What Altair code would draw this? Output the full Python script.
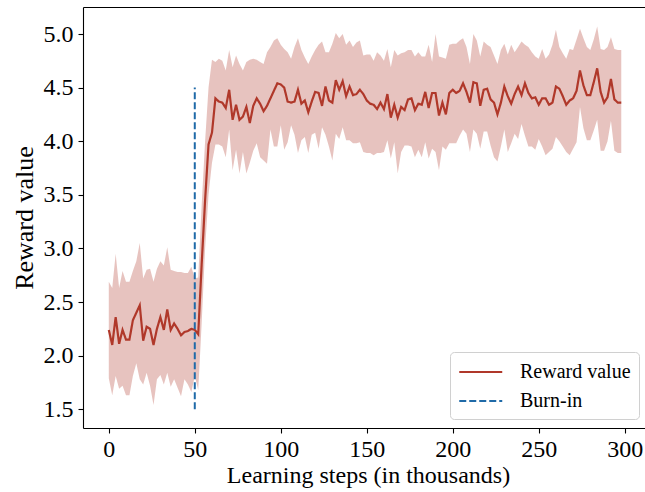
import altair as alt
import pandas as pd

# ---- data ----
mean_reward = [
    2.24, 2.10, 2.36, 2.11, 2.24, 2.15, 2.15, 2.33, 2.40, 2.47,
    2.14, 2.27, 2.25, 2.10, 2.25, 2.36, 2.24, 2.43, 2.24, 2.30,
    2.25, 2.19, 2.22, 2.23, 2.25, 2.24, 2.20, 2.85, 3.45, 3.97,
    4.08, 4.40, 4.37, 4.36, 4.31, 4.48, 4.20, 4.34, 4.20, 4.23,
    4.32, 4.17, 4.33, 4.40, 4.35, 4.28, 4.33, 4.40, 4.47, 4.54,
    4.53, 4.50, 4.37, 4.36, 4.37, 4.48, 4.35, 4.38, 4.27, 4.37,
    4.46, 4.45, 4.33, 4.51, 4.38, 4.36, 4.57, 4.48, 4.56, 4.42,
    4.51, 4.43, 4.44, 4.48, 4.44, 4.38, 4.35, 4.34, 4.30, 4.36,
    4.30, 4.44, 4.22, 4.34, 4.22, 4.32, 4.29, 4.39, 4.40, 4.29,
    4.35, 4.34, 4.46, 4.31, 4.45, 4.45, 4.24, 4.36, 4.25, 4.45,
    4.48, 4.45, 4.47, 4.54, 4.46, 4.36, 4.55, 4.54, 4.33, 4.48,
    4.49, 4.39, 4.36, 4.25, 4.36, 4.51, 4.42, 4.35, 4.44, 4.51,
    4.43, 4.54, 4.45, 4.40, 4.41, 4.34, 4.40, 4.40, 4.34, 4.36,
    4.51, 4.49, 4.42, 4.34, 4.38, 4.40, 4.47, 4.66, 4.52, 4.43,
    4.43, 4.55, 4.68, 4.46, 4.36, 4.41, 4.58, 4.39, 4.36, 4.36,
]
upper_band = [
    2.69, 2.63, 2.95, 2.63, 2.79, 2.69, 2.69, 2.79, 2.88, 3.05,
    2.72, 2.80, 2.81, 2.69, 2.81, 2.88, 2.84, 3.01, 2.80, 2.79,
    2.78, 2.78, 2.77, 2.77, 2.83, 2.72, 2.73, 3.40, 4.00, 4.50,
    4.76, 4.74, 4.77, 4.75, 4.66, 4.85, 4.69, 4.80, 4.72, 4.66,
    4.74, 4.76, 4.77, 4.76, 4.74, 4.72, 4.83, 4.88, 4.94, 4.96,
    4.90, 4.86, 4.83, 4.77, 4.88, 4.96, 4.85, 4.78, 4.72, 4.79,
    4.85, 4.90, 4.93, 4.83, 4.83, 4.91, 5.01, 4.96, 5.00, 4.90,
    4.94, 4.88, 4.92, 4.94, 4.80, 4.81, 4.81, 4.75, 4.83, 4.80,
    4.75, 4.86, 4.69, 4.85, 4.80, 4.82, 4.83, 4.85, 4.85, 4.79,
    4.83, 4.79, 4.79, 4.90, 4.74, 5.00, 4.79, 4.78, 4.77, 4.90,
    4.91, 4.91, 4.94, 4.96, 4.88, 4.72, 5.00, 4.94, 4.79, 4.93,
    4.90, 4.88, 4.80, 4.72, 4.85, 4.91, 4.81, 4.90, 4.83, 4.88,
    4.93, 4.90, 4.88, 4.83, 4.79, 4.77, 4.86, 4.77, 4.81, 4.90,
    5.04, 4.88, 4.82, 4.77, 4.86, 4.85, 4.95, 5.05, 4.96, 4.88,
    4.85, 4.95, 5.07, 4.86, 4.85, 4.88, 4.97, 4.86, 4.85, 4.85,
]
lower_band = [
    1.79, 1.63, 1.81, 1.69, 1.72, 1.63, 1.63, 1.81, 1.93, 1.78,
    1.73, 1.84, 1.72, 1.54, 1.78, 1.82, 1.73, 1.84, 1.71, 1.78,
    1.70, 1.62, 1.78, 1.73, 1.66, 1.81, 1.68, 2.30, 3.00, 3.50,
    3.80, 3.97, 3.97, 3.95, 3.85, 4.11, 3.73, 3.92, 3.70, 3.90,
    3.70, 3.80, 3.91, 3.98, 3.85, 3.82, 3.79, 4.11, 3.95, 3.95,
    4.15, 3.92, 3.99, 4.15, 4.06, 3.89, 4.01, 4.04, 3.89, 4.06,
    4.08, 3.93, 4.13, 4.06, 3.95, 3.82, 4.07, 4.02, 4.13, 4.01,
    4.01, 3.98, 3.98, 3.99, 3.90, 3.89, 3.89, 3.87, 3.89, 3.89,
    3.90, 4.01, 3.84, 3.99, 3.70, 3.90, 3.96, 3.96, 3.95, 3.85,
    3.92, 3.85, 3.99, 3.84, 3.93, 3.90, 3.73, 3.95, 3.92, 3.98,
    3.98, 3.98, 4.05, 4.11, 4.07, 3.90, 4.11, 4.07, 3.93, 4.09,
    4.09, 3.96, 3.85, 3.81, 3.95, 4.11, 3.90, 3.98, 4.07, 4.02,
    4.16, 4.05, 3.95, 3.95, 3.92, 4.02, 3.95, 3.87, 3.90, 3.93,
    4.04, 4.00, 3.95, 3.90, 3.87, 3.93, 3.99, 4.32, 4.12, 4.01,
    4.01, 4.10, 4.20, 3.91, 3.91, 4.00, 4.19, 3.91, 3.89, 3.89,
]
steps = [2 * i for i in range(len(mean_reward))]

x_ticks = [0, 50, 100, 150, 200, 250, 300]
y_ticks = [1.5, 2.0, 2.5, 3.0, 3.5, 4.0, 4.5, 5.0]
burn_in_step = [50]
burn_in_low = [1.5]
burn_in_high = [4.5]
series_names = ["Reward value", "Burn-in"]
series_colors = ["#b0382a", "#1f6aa8"]

n = min(len(steps), len(upper_band), len(lower_band))
df = pd.DataFrame({
    "step": steps[:n],
    "mean": mean_reward[:n],
    "lo": lower_band[:n],
    "hi": upper_band[:n],
    "series": [series_names[0]] * n,
})
burn = pd.DataFrame({
    "step": burn_in_step,
    "y1": burn_in_low,
    "y2": burn_in_high,
    "series": [series_names[1]],
})

FONT = "Liberation Serif"
W, H = 562, 421

xscale = alt.Scale(domain=[-15, 311.8], nice=False, zero=False)
yscale = alt.Scale(domain=[1.325, 5.252], nice=False, zero=False)
color_scale = alt.Scale(domain=series_names, range=series_colors)
dash_scale = alt.Scale(domain=series_names, range=[[1, 0], [7, 3]])

legend = alt.Legend(
    title=None, orient="none", legendX=367, legendY=345,
    symbolType="M-1,0L3,0", symbolSize=462, symbolStrokeWidth=2,
    labelFont=FONT, labelFontSize=20, labelColor="black", labelOffset=38,
    padding=8, rowPadding=7, strokeColor="#d0d0d0", cornerRadius=4,
    fillColor="white",
)

x_bottom = alt.Axis(
    values=x_ticks, title="Learning steps (in thousands)", grid=False,
    labelPadding=4, titleX=285, titleY=54, titleBaseline="alphabetic",
    titleAlign="center",
)
x_top = alt.Axis(
    orient="top", domain=True, ticks=False, labels=False, title=None, grid=False,
)
y_axis = alt.Axis(
    values=y_ticks, format=".1f", title="Reward value", grid=False,
    labelPadding=5, titleX=-51, titleY=210.5, titleAngle=270,
    titleBaseline="alphabetic", titleAlign="center", titleFontSize=26,
)

band = alt.Chart(df).mark_area(color=series_colors[0], opacity=0.3).encode(
    x=alt.X("step:Q", scale=xscale, axis=x_bottom),
    y=alt.Y("lo:Q", scale=yscale, axis=y_axis),
    y2="hi:Q",
)

line = alt.Chart(df).mark_line(strokeWidth=2.2).encode(
    x=alt.X("step:Q", scale=xscale, axis=None),
    y=alt.Y("mean:Q", scale=yscale, axis=y_axis),
    color=alt.Color("series:N", scale=color_scale, legend=legend, title=None),
    strokeDash=alt.StrokeDash("series:N", scale=dash_scale, legend=legend, title=None),
)

rule = alt.Chart(burn).mark_rule(strokeWidth=2).encode(
    x=alt.X("step:Q", scale=xscale, axis=x_top),
    y=alt.Y("y1:Q", scale=yscale, axis=y_axis),
    y2="y2:Q",
    color=alt.Color("series:N", scale=color_scale, legend=legend, title=None),
    strokeDash=alt.StrokeDash("series:N", scale=dash_scale, legend=legend, title=None),
)

chart = alt.layer(band, line, rule).resolve_axis(x="independent").properties(
    width=W, height=H,
    autosize=alt.AutoSizeParams(type="none"),
    padding={"left": 83, "top": 7, "right": 0, "bottom": 60},
).configure_view(stroke=None).configure_axis(
    domainColor="black", domainWidth=1.1, tickColor="black", tickSize=5,
    tickWidth=1.1, labelFont=FONT, labelFontSize=24, labelColor="black",
    titleFont=FONT, titleFontSize=24, titleFontWeight="normal", titleColor="black",
)

chart.save("out.html", embed_options={"renderer": "svg", "actions": False})
